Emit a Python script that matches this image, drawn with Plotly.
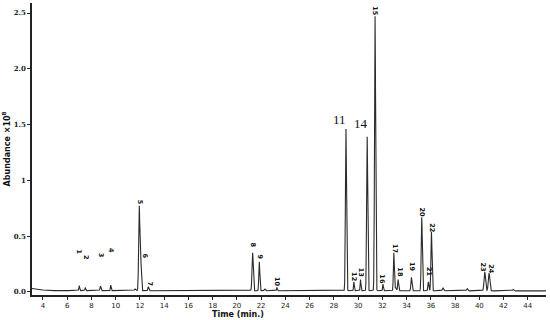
import numpy as np
import plotly.graph_objects as go

# Peak table (retention time in min, abundance x10^8)
peak_labels = ["1", "2", "3", "4", "5", "6", "7", "8", "9", "10", "11", "12",
               "13", "14", "15", "16", "17", "18", "19", "20", "21", "22", "23", "24"]
peak_times = [7.0, 7.5, 8.75, 9.6, 11.95, 12.08, 12.7, 21.3, 21.85, 23.3, 29.0, 29.65,
              30.2, 30.75, 31.4, 32.05, 32.95, 33.3, 34.4, 35.25, 35.8, 36.05, 40.45, 40.8]
peak_heights = [0.045, 0.03, 0.04, 0.05, 0.76, 0.25, 0.035, 0.34, 0.26, 0.03, 1.45, 0.08,
                0.10, 1.38, 2.46, 0.06, 0.34, 0.10, 0.12, 0.66, 0.08, 0.53, 0.17, 0.16]
peak_widths = [0.03, 0.03, 0.04, 0.03, 0.05, 0.04, 0.04, 0.05, 0.04, 0.03, 0.045, 0.03,
               0.03, 0.045, 0.045, 0.03, 0.04, 0.04, 0.045, 0.045, 0.04, 0.045, 0.06, 0.06]
label_x = [7.0, 7.5, 8.75, 9.6, 12.0, 12.4, 12.8, 21.3, 21.9, 23.3, 28.5, 29.6,
           30.25, 30.25, 31.45, 32.0, 33.0, 33.5, 34.4, 35.3, 35.85, 36.1, 40.3, 41.0]
label_y = [0.36, 0.31, 0.33, 0.37, 0.80, 0.32, 0.07, 0.42, 0.31, 0.09, 1.55, 0.14,
           0.18, 1.51, 2.52, 0.11, 0.39, 0.18, 0.22, 0.71, 0.18, 0.58, 0.22, 0.20]

# minor unlabeled bumps
minor_times = [11.6, 22.3, 33.1, 37.0, 39.0, 42.8]
minor_heights = [0.015, 0.015, 0.03, 0.025, 0.02, 0.012]

# baseline drift points (time, abundance)
base_t = [3.1, 3.5, 4.0, 5.0, 45.5]
base_y = [0.032, 0.022, 0.017, 0.012, 0.010]

t = np.arange(3.1, 45.5, 0.005)
y = np.interp(t, base_t, base_y)
for pt, ph, pw in zip(peak_times, peak_heights, peak_widths):
    y = y + ph * np.exp(-0.5 * ((t - pt) / pw) ** 2)
for pt, ph in zip(minor_times, minor_heights):
    y = y + ph * np.exp(-0.5 * ((t - pt) / 0.05) ** 2)

fig = go.Figure()
fig.add_trace(go.Scatter(x=t, y=y, mode="lines",
                         line=dict(color="#2b2b2b", width=1.1), hoverinfo="skip"))

for lab, lx, ly in zip(peak_labels, label_x, label_y):
    if lab in ("11", "14"):
        fig.add_annotation(x=lx, y=ly, text=lab, showarrow=False,
                           font=dict(family="Liberation Serif", size=13, color="#111"))
    else:
        fig.add_annotation(x=lx, y=ly, text="<b>%s</b>" % lab, showarrow=False,
                           textangle=90,
                           font=dict(family="DejaVu Sans", size=6.5, color="#111"))

fig.add_annotation(x=0.40, y=-0.066, xref="paper", yref="paper",
                   text="<b>Time (min.)</b>", showarrow=False, yanchor="middle",
                   font=dict(family="DejaVu Sans", size=8, color="#111"))

fig.update_layout(
    width=550, height=320,
    margin=dict(l=32, r=4, t=3, b=25, autoexpand=False),
    paper_bgcolor="white", plot_bgcolor="white",
    showlegend=False,
    xaxis=dict(range=[3.1, 45.5], tickvals=list(range(4, 46, 2)),
               showgrid=False, zeroline=False, showline=True, automargin=False,
               linecolor="#222", linewidth=1.5, ticks="outside", ticklen=3,
               tickcolor="#222",
               tickfont=dict(family="DejaVu Sans", size=7, color="#222")),
    yaxis=dict(range=[-0.027, 2.59], tickvals=[0, 0.5, 1, 1.5, 2.0, 2.5],
               ticktext=["<b>0.0</b>", "<b>0.5</b>", "<b>1</b>", "<b>1.5</b>", "<b>2.0</b>", "<b>2.5</b>"],
               showgrid=False, zeroline=False, showline=True, automargin=False,
               linecolor="#222", linewidth=1.5, ticks="outside", ticklen=3,
               tickcolor="#222",
               tickfont=dict(family="DejaVu Serif", size=7, color="#222"),
               title=dict(text="<b>Abundance ×10<sup>8</sup></b>", standoff=2,
                          font=dict(family="DejaVu Sans", size=8, color="#111"))),
)

fig.write_html("out.html", config={"displayModeBar": False},
               post_script="document.body.style.margin='0';document.body.style.overflow='hidden';")
